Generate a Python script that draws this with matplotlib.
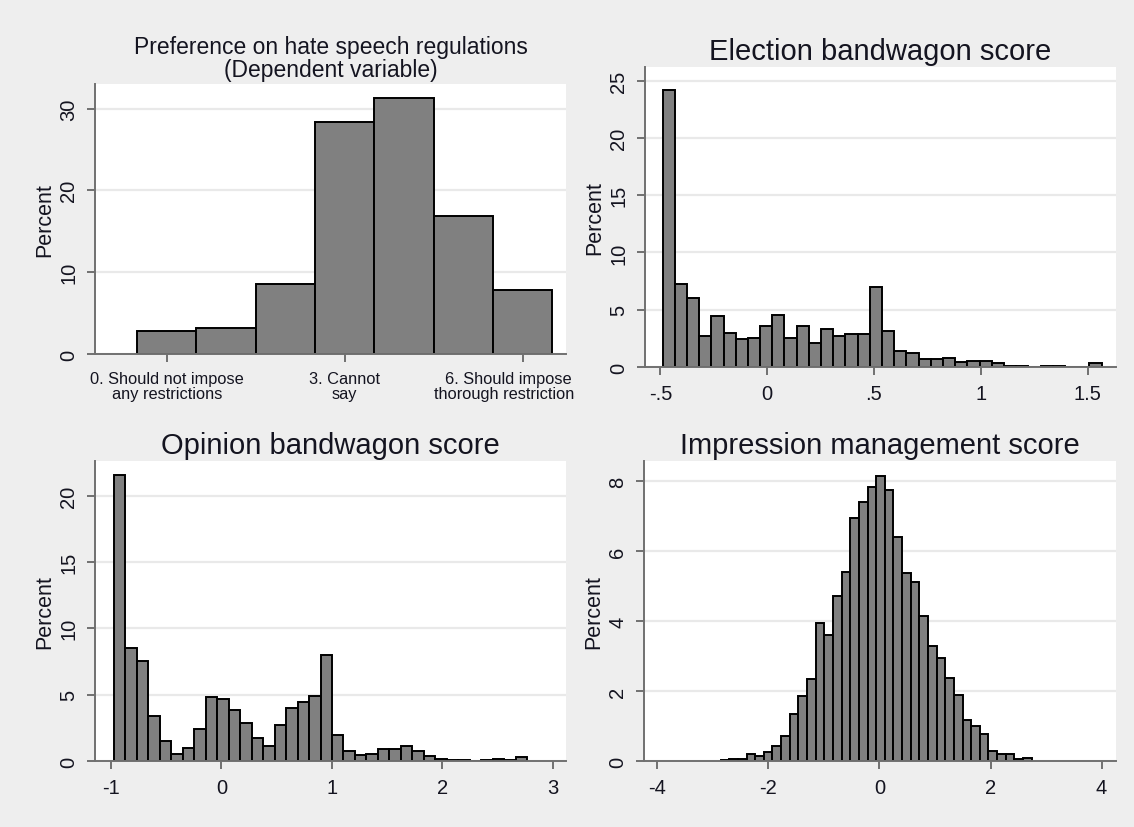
import matplotlib
matplotlib.use('Agg')
import matplotlib.pyplot as plt
from matplotlib.transforms import Bbox, TransformedBbox, ScaledTranslation
import numpy as np

#__________________DATA

# Preference on hate speech regulations (0-6 scale), percent of respondents
pref_cat = [0, 1, 2, 3, 4, 5, 6]
pref_pct = [2.8, 3.2, 8.6, 28.4, 31.3, 16.9, 7.8]
pref_ticks = [0, 3, 6]
pref_ticklabels = ['0. Should not impose\nany restrictions',
                   '3. Cannot\nsay',
                   '6. Should impose\nthorough restrictions']

# Election bandwagon score
elec_start, elec_width = -0.49, 0.0571
elec_pct = [24.2, 7.27, 6.02, 2.70, 4.42, 2.99, 2.41, 2.53, 3.55, 4.56, 2.56, 3.58,
            2.12, 3.28, 2.70, 2.85, 2.85, 6.98, 3.14, 1.40, 1.25, 0.67, 0.67, 0.75,
            0.40, 0.52, 0.52, 0.36, 0.06, 0.06, 0.03, 0.05, 0.05, 0.03, 0.04, 0.35]
elec_ticks = [-0.5, 0, 0.5, 1, 1.5]
elec_ticklabels = ['-.5', '0', '.5', '1', '1.5']

# Opinion bandwagon score
opin_start, opin_width = -0.975, 0.104
opin_pct = [21.55, 8.52, 7.57, 3.38, 1.50, 0.55, 1.00, 2.43, 4.79, 4.69, 3.81, 2.88,
            1.75, 1.13, 2.68, 3.98, 4.44, 4.86, 8.00, 1.93, 0.78, 0.43, 0.53, 0.93,
            0.93, 1.15, 0.73, 0.38, 0.13, 0.05, 0.05, 0.03, 0.05, 0.13, 0.05, 0.30]
opin_ticks = [-1, 0, 1, 2, 3]

# Impression management score
impr_start, impr_width = -2.86, 0.1556
impr_pct = [0.02, 0.05, 0.05, 0.19, 0.14, 0.26, 0.43, 0.71, 1.35, 1.85, 2.35, 3.94,
            3.59, 4.72, 5.40, 6.96, 7.41, 7.84, 8.14, 7.74, 6.41, 5.37, 5.13, 4.15,
            3.28, 2.95, 2.38, 1.90, 1.17, 1.00, 0.76, 0.29, 0.19, 0.19, 0.07, 0.10]
impr_ticks = [-4, -2, 0, 2, 4]

#__________________STYLE

W, H = 1134, 828
bg = '#eeeeee'
txt = '#141420'
plt.rcParams['font.family'] = ['Liberation Sans', 'DejaVu Sans']
plt.rcParams['text.color'] = txt
plt.rcParams['axes.labelcolor'] = txt

fig = plt.figure(figsize=(W/100, H/100), dpi=100, facecolor=bg)

def px_axes(l, r, t, b):
    return fig.add_axes([l/W, 1 - b/H, (r - l)/W, (b - t)/H])

def style(ax, yticks, xlim, ylim):
    ax.set_facecolor('white')
    for s in ('top', 'right'):
        ax.spines[s].set_visible(False)
    for s in ('left', 'bottom'):
        ax.spines[s].set_color('#707070')
        ax.spines[s].set_linewidth(1.4)
    ax.set_xlim(xlim)
    ax.set_ylim(ylim)
    ax.set_yticks(yticks)
    ax.set_yticklabels(['%d' % v for v in yticks], rotation=90, va='center')
    ax.tick_params(length=6, width=1.4, color='#707070', labelsize=14.5,
                   labelcolor=txt, pad=6)
    ax.yaxis.grid(True, color='#e9e9e9', linewidth=1.6)
    ax.set_axisbelow(True)
    ax.set_ylabel('Percent', fontsize=15.5, labelpad=3)

def bars(ax, x, h, w, align='edge'):
    ax.bar(x, h, width=w, align=align, color='#808080', edgecolor='black',
           linewidth=1.4, zorder=2)

#__________________PANEL 1

ax = px_axes(95, 566, 85, 355)
bars(ax, pref_cat, pref_pct, 1.0, align='center')
style(ax, [0, 10, 20, 30], (-1.21, 6.73), (0, 33))
ax.set_xticks(pref_ticks)
ax.set_xticklabels(pref_ticklabels, fontsize=11.8, linespacing=1.0)
ax.set_title('Preference on hate speech regulations\n(Dependent variable)',
             fontsize=16.5, linespacing=1.0, pad=6)
# last label is pushed left and cut at the edge of the graph region
clip = TransformedBbox(Bbox.from_extents(0, 0, 575/W, 1), fig.transFigure)
last = ax.get_xticklabels()[-1]
last.set_transform(last.get_transform() + ScaledTranslation(-0.14, 0, fig.dpi_scale_trans))
last.set_clip_box(clip)
last.set_clip_on(True)

#__________________PANEL 2

ax = px_axes(645, 1116, 68, 368)
edges = elec_start + elec_width*np.arange(len(elec_pct))
bars(ax, edges, elec_pct, elec_width)
style(ax, [0, 5, 10, 15, 20, 25], (-0.572, 1.633), (0, 26.2))
ax.set_xticks(elec_ticks)
ax.set_xticklabels(elec_ticklabels)
ax.set_title('Election bandwagon score', fontsize=21, pad=6)

#__________________PANEL 3

ax = px_axes(95, 566, 462, 762)
edges = opin_start + opin_width*np.arange(len(opin_pct))
bars(ax, edges, opin_pct, opin_width)
style(ax, [0, 5, 10, 15, 20], (-1.145, 3.12), (0, 22.6))
ax.set_xticks(opin_ticks)
ax.set_xticklabels(['%d' % v for v in opin_ticks])
ax.set_title('Opinion bandwagon score', fontsize=21, pad=6)

#__________________PANEL 4

ax = px_axes(644, 1116, 462, 762)
edges = impr_start + impr_width*np.arange(len(impr_pct))
bars(ax, edges, impr_pct, impr_width)
style(ax, [0, 2, 4, 6, 8], (-4.24, 4.26), (0, 8.58))
ax.set_xticks(impr_ticks)
ax.set_xticklabels(['%d' % v for v in impr_ticks])
ax.set_title('Impression management score', fontsize=21, pad=6)

fig.savefig('out.png', dpi=100, facecolor=bg)
